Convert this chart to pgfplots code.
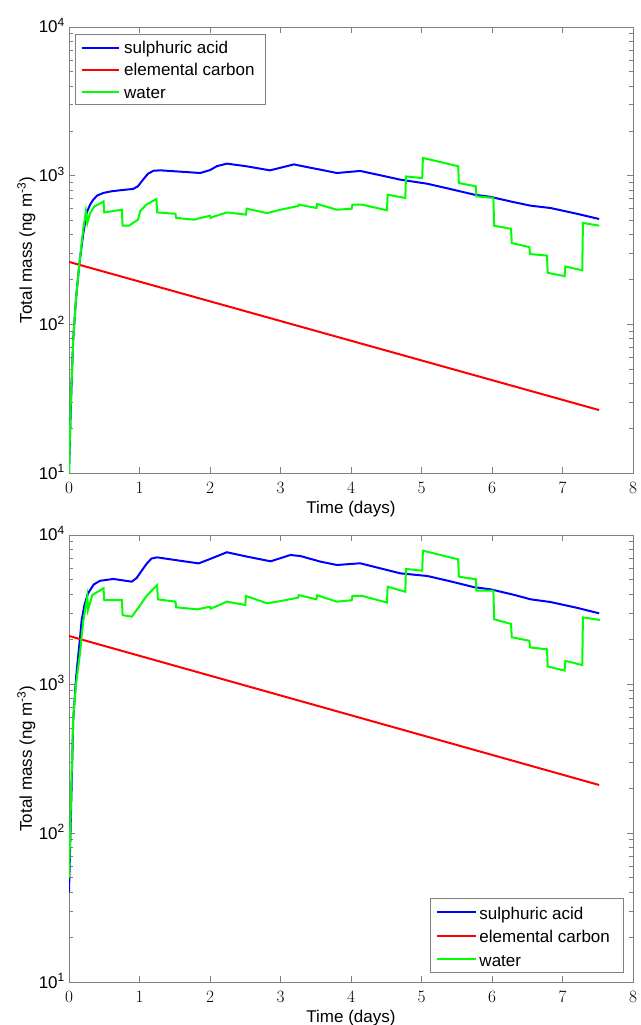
\documentclass[border=0pt]{standalone}
\usepackage{fontspec}
\setmainfont{Liberation Sans}
\usepackage{pgfplots}
\pgfplotsset{compat=1.18}
\definecolor{mblue}{RGB}{0,0,255}
\definecolor{mred}{RGB}{255,0,0}
\definecolor{mgreen}{RGB}{0,255,0}
\definecolor{maxis}{RGB}{128,128,128}
\newcommand{\mfont}{\fontsize{17}{20}\selectfont}
\pgfplotsset{mstyle/.style={
  scale only axis,
  width=564pt,
  xmin=0, xmax=8, ymin=10, ymax=10000,
  xtick={0,1,2,3,4,5,6,7,8},
  ytick={10,100,1000,10000},
  yticklabels={10\textsuperscript{1},10\textsuperscript{2},10\textsuperscript{3},10\textsuperscript{4}},
  tick align=inside,
  axis line style={maxis, line width=0.8pt},
  every tick/.style={maxis, line width=0.8pt},
  major tick length=6pt, minor tick length=3.5pt,
  tick label style={font=\mfont, inner sep=0pt},
  xticklabel style={anchor=base, yshift=-20pt},
  yticklabel style={anchor=base east, xshift=-4pt, yshift=-6pt},
  label style={font=\mfont},
  xlabel={Time (days)},
  ylabel={Total mass (ng m\textsuperscript{-3})},
  xlabel style={at={(axis description cs:0.5,0)}, anchor=base, yshift=-40pt},
  ylabel style={at={(axis description cs:-0.066,0.5)}, anchor=base},
  every axis plot/.append style={line width=2pt},
}}
\tikzset{legtext/.style={anchor=base west, inner sep=0pt, font=\mfont},
  legline/.style={line width=1.8pt}}
\begin{document}
\begin{tikzpicture}
\useasboundingbox (0,0) rectangle (640pt,-1025pt);

% top panel
\begin{semilogyaxis}[mstyle, height=446pt, at={(69pt,-473pt)}, anchor=south west]
\addplot[draw=mblue] coordinates {
(0,10) (0.02,22) (0.04,45) (0.06,79) (0.1,150) (0.146,252) (0.2,400) (0.25,561)
(0.3,640) (0.345,690) (0.4,735) (0.487,765) (0.6,785) (0.75,800) (0.91,814)
(0.98,850) (1.05,940) (1.12,1030) (1.2,1080) (1.3,1086) (1.5,1070) (1.7,1055) (1.86,1042)
(2.0,1090) (2.1,1160) (2.24,1205) (2.5,1160) (2.85,1086) (3.0,1130) (3.19,1191)
(3.28,1167) (3.57,1096) (3.80,1042) (4.13,1076) (4.4,1010) (4.70,940) (5.08,883)
(5.4,815) (5.75,745) (5.98,720) (6.3,665) (6.55,628) (6.83,606) (7.2,555) (7.52,511)
};
\addplot[draw=mred] coordinates {(0,263) (7.52,26.5)};
\addplot[draw=mgreen] coordinates {
(0,10) (0.02,25) (0.04,45) (0.06,79) (0.1,150) (0.146,252) (0.2,430) (0.24,578)
(0.26,480) (0.3,560) (0.36,620) (0.49,671) (0.50,566) (0.75,590) (0.76,461)
(0.85,461) (0.98,506) (1.01,578) (1.1,640) (1.24,697) (1.25,566) (1.51,554)
(1.52,520) (1.77,506) (2.0,538) (2.01,520) (2.05,530) (2.24,566) (2.51,547)
(2.52,600) (2.81,560) (3.0,590) (3.25,625) (3.26,638) (3.51,606) (3.52,645)
(3.80,590) (4.01,600) (4.02,638) (4.16,638) (4.51,585) (4.52,745) (4.77,708)
(4.78,988) (5.01,964) (5.02,1316) (5.52,1157) (5.53,893) (5.77,848) (5.78,726)
(6.02,708) (6.03,461) (6.27,439) (6.28,352) (6.53,331) (6.54,297) (6.78,290)
(6.79,222) (7.03,211) (7.04,245) (7.28,231) (7.29,481) (7.52,461)
};
% legend
\coordinate (tl) at (rel axis cs:0,1);
\draw[maxis, line width=0.8pt, fill=white] ([shift={(6pt,-7pt)}]tl) rectangle ([shift={(196.7pt,-77pt)}]tl);
\draw[mblue, legline] ([shift={(12.7pt,-20.7pt)}]tl) -- ([shift={(50.3pt,-20.7pt)}]tl);
\draw[mred, legline] ([shift={(12.7pt,-42.7pt)}]tl) -- ([shift={(50.3pt,-42.7pt)}]tl);
\draw[mgreen, legline] ([shift={(12.7pt,-64.7pt)}]tl) -- ([shift={(50.3pt,-64.7pt)}]tl);
\node[legtext] at ([shift={(55pt,-27pt)}]tl) {sulphuric acid};
\node[legtext] at ([shift={(55pt,-49pt)}]tl) {elemental carbon};
\node[legtext] at ([shift={(55pt,-71pt)}]tl) {water};
\end{semilogyaxis}

% bottom panel
\begin{semilogyaxis}[mstyle, height=447pt, at={(69pt,-982pt)}, anchor=south west]
\addplot[draw=mblue] coordinates {
(0,40) (0.03,150) (0.06,573) (0.1,1100) (0.156,2030) (0.18,2690) (0.22,3400)
(0.27,4060) (0.35,4650) (0.44,4930) (0.63,5070) (0.89,4860) (0.96,5150) (1.03,5750)
(1.1,6400) (1.17,6950) (1.25,7080) (1.5,6800) (1.84,6450) (2.0,6900) (2.24,7660) (2.5,7200)
(2.86,6660) (3.14,7340) (3.28,7230) (3.57,6620) (3.80,6290) (4.13,6460) (4.4,6000)
(4.70,5530) (5.08,5310) (5.4,4900) (5.75,4460) (5.98,4320) (6.3,3980) (6.55,3700)
(6.83,3550) (7.2,3250) (7.52,2980)
};
\addplot[draw=mred] coordinates {(0,2100) (7.52,210)};
\addplot[draw=mgreen] coordinates {
(0,50) (0.03,180) (0.06,600) (0.1,1000) (0.156,1610) (0.2,2600) (0.26,3860)
(0.27,3140) (0.33,3950) (0.49,4390) (0.50,3660) (0.75,3660) (0.76,2900) (0.89,2830)
(1.0,3330) (1.1,3900) (1.25,4610) (1.26,3700) (1.51,3570) (1.52,3270) (1.82,3170)
(2.0,3300) (2.01,3200) (2.24,3570) (2.5,3390) (2.51,3900) (2.81,3480) (3.0,3600)
(3.25,3800) (3.26,3950) (3.51,3700) (3.52,3940) (3.80,3570) (4.01,3650) (4.02,3900)
(4.16,3900) (4.51,3520) (4.52,4500) (4.77,4160) (4.78,5920) (5.01,5760) (5.02,7850)
(5.52,6870) (5.53,5250) (5.77,5050) (5.78,4230) (6.02,4230) (6.03,2720) (6.27,2530)
(6.28,2060) (6.53,1950) (6.54,1760) (6.78,1710) (6.79,1310) (7.03,1230) (7.04,1430)
(7.28,1340) (7.29,2800) (7.53,2690)
};
% legend
\coordinate (br) at (rel axis cs:1,0);
\draw[maxis, line width=0.8pt, fill=white] ([shift={(-202.3pt,83.7pt)}]br) rectangle ([shift={(-9.7pt,9.3pt)}]br);
\draw[mblue, legline] ([shift={(-195.7pt,69.7pt)}]br) -- ([shift={(-157.3pt,69.7pt)}]br);
\draw[mred, legline] ([shift={(-195.7pt,46.2pt)}]br) -- ([shift={(-157.3pt,46.2pt)}]br);
\draw[mgreen, legline] ([shift={(-195.7pt,22.7pt)}]br) -- ([shift={(-157.3pt,22.7pt)}]br);
\node[legtext] at ([shift={(-153.7pt,62.7pt)}]br) {sulphuric acid};
\node[legtext] at ([shift={(-153.7pt,39.2pt)}]br) {elemental carbon};
\node[legtext] at ([shift={(-153.7pt,15.7pt)}]br) {water};
\end{semilogyaxis}
\end{tikzpicture}
\end{document}
